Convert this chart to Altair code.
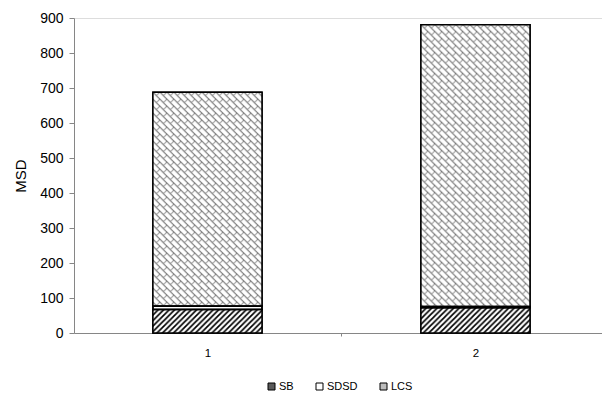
import base64
import altair as alt
import pandas as pd

# ---------------- data ----------------
categories = ["1", "2"]
series_names = ["SB", "SDSD", "LCS"]
sb_values = [67, 72]
sdsd_values = [10, 4]
lcs_values = [611, 805]
y_ticks = [0, 100, 200, 300, 400, 500, 600, 700, 800, 900]
y_title = "MSD"

series_values = {"SB": sb_values, "SDSD": sdsd_values, "LCS": lcs_values}
rows = []
for i, c in enumerate(categories):
    start = 0
    for s in series_names:
        v = series_values[s][i]
        rows.append({"cat": c, "series": s, "start": start, "end": start + v, "value": v})
        start += v
df = pd.DataFrame(rows)

# ---------------- layout / style ----------------
FONT = "Liberation Sans"
PLOT_W, PLOT_H = 528, 315
YMAX = 900
P_INNER, P_OUTER, ALIGN = 0.593, 0.2815, 0.523
step = PLOT_W / (len(categories) - P_INNER + 2 * P_OUTER)
BAR_W = step * (1 - P_INNER)
PX_PER_UNIT = PLOT_H / YMAX

PATTERNS = {
    "SB": (
        '<pattern id="p" width="5.5" height="5.5" patternUnits="userSpaceOnUse">'
        '<path d="M-1.375,1.375 L1.375,-1.375 M0,5.5 L5.5,0 M4.125,6.875 L6.875,4.125" '
        'stroke="black" stroke-width="1.7" fill="none"/></pattern>'
    ),
    "LCS": (
        '<pattern id="p" width="7" height="7" patternUnits="userSpaceOnUse">'
        '<path d="M-1,-1 L8,8 M-1.75,5.25 L1.75,8.75 M5.25,-1.75 L8.75,1.75" '
        'stroke="#6a6a6a" stroke-width="1.0" fill="none"/>'
        '<path d="M3.5,3.5 L7,0" stroke="#8c8c8c" stroke-width="1.0" fill="none"/></pattern>'
    ),
}


def pattern_uri(w, h, series):
    svg = (
        f'<svg xmlns="http://www.w3.org/2000/svg" width="{w:.2f}" height="{h:.2f}" '
        f'viewBox="0 0 {w:.2f} {h:.2f}"><defs>{PATTERNS[series]}</defs>'
        '<rect x="0" y="0" width="100%" height="100%" fill="white"/>'
        '<rect x="0" y="0" width="100%" height="100%" fill="url(#p)"/></svg>'
    )
    return "data:image/svg+xml;base64," + base64.b64encode(svg.encode()).decode()


x_scale = alt.Scale(domain=categories, paddingInner=P_INNER, paddingOuter=P_OUTER, align=ALIGN)
y_scale = alt.Scale(domain=[0, YMAX], nice=False)

x_axis = alt.Axis(
    title=None, labelAngle=0, tickSize=3, tickOffset=step / 2, labelOffset=-step / 2,
    tickColor="#868686", domainColor="#868686", domainWidth=1, labelFont=FONT,
    labelFontSize=11.5, labelColor="black", labelPadding=11, grid=False,
)
y_axis = alt.Axis(
    values=y_ticks, title=y_title, grid=False, tickSize=5, tickColor="#868686",
    domainColor="#868686", labelFont=FONT, labelFontSize=14, labelColor="black",
    labelPadding=6, titleFont=FONT, titleFontSize=15, titleFontWeight="normal",
    titleColor="black", titleX=-53.5, titleY=PLOT_H / 2, titleAngle=270,
    titleAlign="center", titleBaseline="middle",
)

X = alt.X("cat:N", scale=x_scale, sort=categories, axis=x_axis)

base = alt.Chart(df)

main = base.mark_bar(stroke="black", strokeWidth=1.5).encode(
    x=X,
    y=alt.Y("start:Q", scale=y_scale, axis=y_axis),
    y2="end:Q",
    fill=alt.Fill(
        "series:N",
        scale=alt.Scale(domain=series_names, range=["#5a5a5a", "#ffffff", "#bdbdbd"]),
        legend=alt.Legend(
            orient="none", legendX=192, legendY=363, direction="horizontal",
            title=None, symbolType="square", symbolSize=49, symbolStrokeColor="black",
            symbolStrokeWidth=1, labelFont=FONT, labelFontSize=11, labelColor="black",
            columnPadding=20, labelOffset=2, padding=0,
        ),
    ),
)

layers = [main]
for i, c in enumerate(categories):
    for s in ["SB", "LCS"]:
        h_px = series_values[s][i] * PX_PER_UNIT
        layers.append(
            base.transform_filter((alt.datum.cat == c) & (alt.datum.series == s))
            .transform_calculate(mid="(datum.start + datum.end) / 2")
            .mark_image(width=BAR_W, height=h_px, aspect=False, align="center", baseline="middle")
            .encode(
                x=X,
                y=alt.Y("mid:Q", scale=y_scale, axis=y_axis),
                url=alt.value(pattern_uri(BAR_W, h_px, s)),
            )
        )

outline = base.mark_bar(fillOpacity=0, stroke="black", strokeWidth=1.5).encode(
    x=X,
    y=alt.Y("start:Q", scale=y_scale, axis=y_axis),
    y2="end:Q",
)
layers.append(outline)

chart = (
    alt.layer(*layers)
    .properties(
        width=PLOT_W,
        height=PLOT_H,
        autosize=alt.AutoSizeParams(type="none"),
        padding={"left": 74, "top": 18, "right": 0, "bottom": 65},
        background="white",
    )
    .configure_view(strokeWidth=0)
    .configure(font=FONT)
)

chart.save("out.html", embed_options={"renderer": "svg", "actions": False})
